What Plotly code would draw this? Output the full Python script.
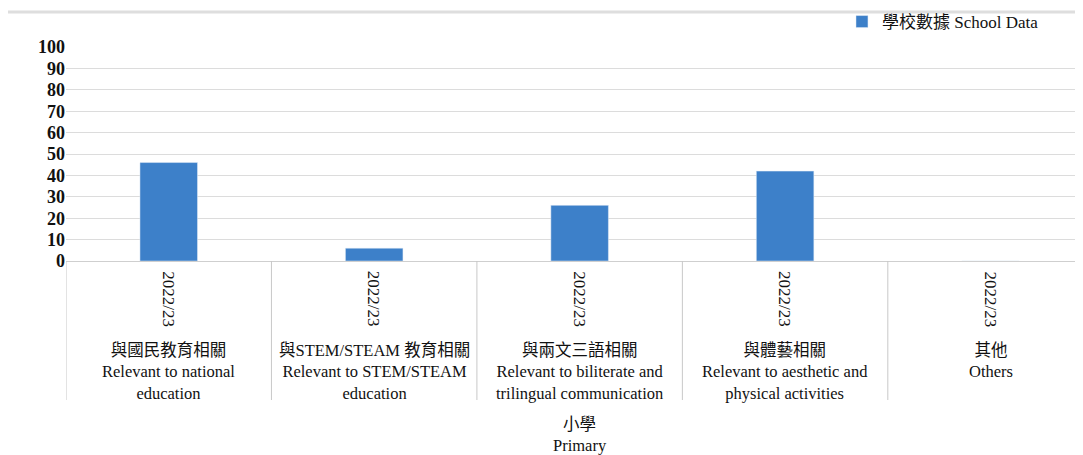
import plotly.graph_objects as go

years = ["2022/23", "2022/23", "2022/23", "2022/23", "2022/23"]
categories_zh = ["與國民教育相關", "與STEM/STEAM 教育相關", "與兩文三語相關", "與體藝相關", "其他"]
categories_en = ["Relevant to national<br>education", "Relevant to STEM/STEAM<br>education",
                 "Relevant to biliterate and<br>trilingual communication",
                 "Relevant to aesthetic and<br>physical activities", "Others"]
values = [46, 6, 26, 42, 0]
group_zh = "小學"
group_en = "Primary"
series_name = "學校數據 School Data"
y_ticks = list(range(0, 101, 10))

FONT = "Liberation Serif, Noto Sans CJK TC, serif"
OFF = 8  # page body margin
H_PLOT = 214.0  # plot height in px
def py(pix):  # convert screen pixel y (from top) to paper coords
    return (261 - pix) / H_PLOT

idx = list(range(len(values)))
fig = go.Figure()
fig.add_trace(go.Bar(x=idx, y=values, width=0.28, marker_color="#3d80c9",
                     name=series_name, showlegend=True))

ann = []
for i in idx:
    ann.append(dict(x=i, y=py(299), xref="x", yref="paper", text=years[i], textangle=90,
                    xanchor="center", yanchor="middle",
                    showarrow=False, font=dict(size=17, color="#111", family=FONT)))
    ann.append(dict(x=i, y=py(339), xref="x", yref="paper", yanchor="top",
                    text=categories_zh[i] + "<br>" + categories_en[i], showarrow=False,
                    font=dict(size=16.5, color="#111", family=FONT)))
ann.append(dict(x=2, y=py(413), xref="x", yref="paper", yanchor="top",
                text=group_zh + "<br>" + group_en, showarrow=False,
                font=dict(size=16.5, color="#111", family=FONT)))

shapes = []
for b in [-0.5, 0.5, 1.5, 2.5, 3.5]:
    shapes.append(dict(type="line", xref="x", yref="paper", x0=b, x1=b, y0=0, y1=py(400),
                       line=dict(color="#c8c8c8", width=1)))
shapes.append(dict(type="line", xref="paper", yref="paper", x0=-0.07, x1=1.0,
                   y0=py(12), y1=py(12), line=dict(color="#dedede", width=3)))

fig.update_layout(
    width=1083 - OFF, height=455 - OFF,
    margin=dict(l=66 - OFF, r=0, t=47 - OFF, b=194, autoexpand=False),
    paper_bgcolor="white", plot_bgcolor="white",
    font=dict(family=FONT, color="#111"),
    bargap=0.72,
    xaxis=dict(range=[-0.5, 4.45], showticklabels=False, showgrid=False, zeroline=False,
               showline=False, ticks=""),
    yaxis=dict(range=[0, 100], tickvals=y_ticks, showgrid=True, gridcolor="#dcdcdc",
               gridwidth=1, zeroline=True, zerolinecolor="#cfcfcf", zerolinewidth=1,
               tickfont=dict(size=18, family=FONT, color="#111", weight="bold"),
               ticks="", ticklabelstandoff=0),
    showlegend=True,
    legend=dict(x=0.763, y=py(22), xanchor="left", yanchor="middle", orientation="h",
                itemwidth=30,
                font=dict(size=17, family=FONT, color="#111"), bgcolor="rgba(0,0,0,0)"),
    annotations=ann, shapes=shapes,
)
fig.write_html("out.html")
